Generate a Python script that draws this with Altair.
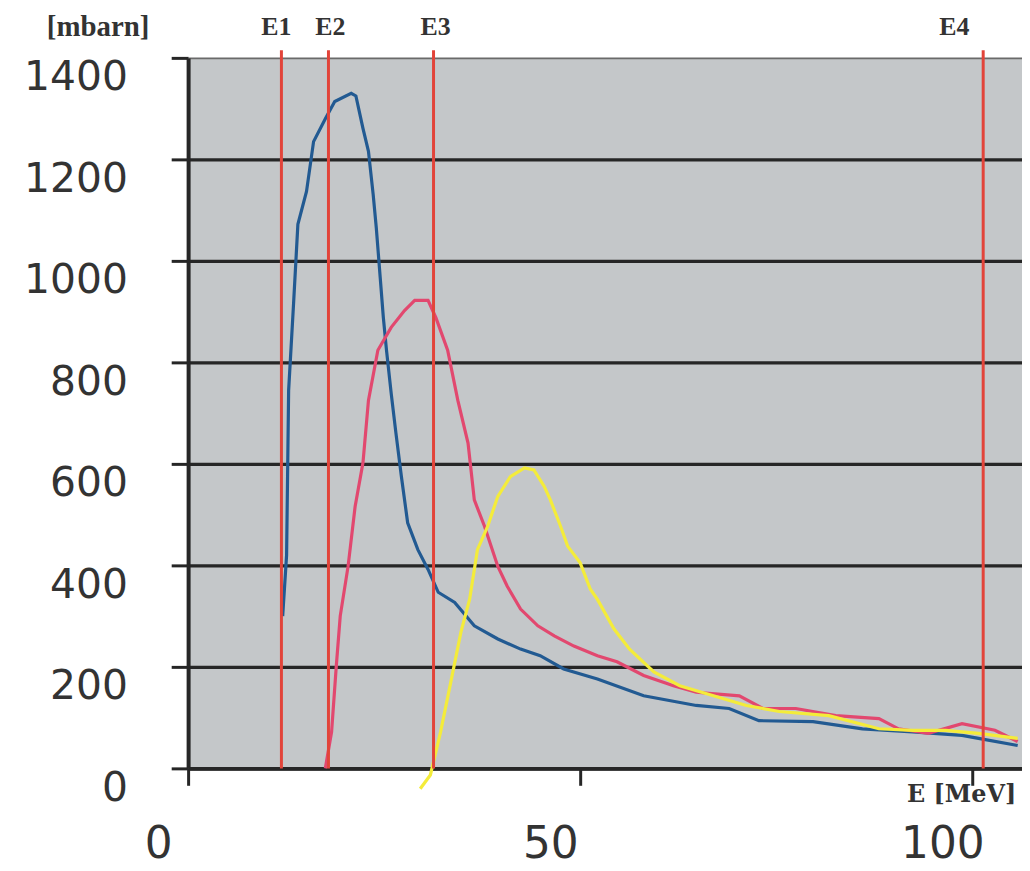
import altair as alt
import pandas as pd

# Energy [MeV] and cross section [mbarn]
blue_x = [12.06, 12.56, 12.82, 13.45, 14.0, 15.1, 16.0, 17.5, 18.7, 20.8, 21.4, 22.3, 23.0, 23.6,
          24.0, 24.5, 24.9, 25.3, 25.9, 26.5, 27.2, 28.0, 29.3, 30.6, 31.9, 34.0, 36.5, 39.5,
          42.4, 44.9, 47.9, 52.2, 58.1, 64.8, 69.0, 72.8, 79.7, 86.0, 92.4, 98.7, 100.8, 105.8]
blue_y = [300, 420, 745, 916, 1072, 1137, 1235, 1280, 1314, 1330, 1325, 1261, 1216, 1131,
          1065, 967, 888, 824, 739, 661, 575, 484, 431, 392, 347, 327, 281, 255,
          235, 222, 196, 176, 143, 124, 118, 94, 92, 78, 72, 65, 59, 45]

pink_x = [17.5, 18.3, 18.9, 19.4, 20.4, 21.3, 22.3, 23.0, 24.2, 25.9, 27.6, 28.9, 30.6, 31.6,
          33.1, 34.4, 35.7, 36.5, 37.8, 39.5, 40.7, 42.4, 44.6, 46.7, 49.2, 52.2, 54.7, 58.1,
          61.9, 64.8, 70.3, 73.3, 77.5, 82.6, 88.1, 90.6, 94.4, 98.7, 102.9, 105.8]
pink_y = [0, 72, 202, 300, 398, 516, 602, 725, 824, 869, 902, 922, 922, 888,
          824, 725, 641, 529, 477, 398, 359, 314, 281, 261, 241, 222, 210, 183,
          163, 150, 143, 118, 118, 104, 98, 78, 69, 88, 75, 53]

yellow_x = [29.6, 30.9, 32.2, 33.5, 34.8, 35.9, 36.9, 38.2, 39.5, 41.1, 42.9, 44.1, 45.4, 46.2,
            47.5, 48.4, 50.0, 51.3, 52.2, 54.3, 56.3, 59.4, 62.7, 67.0, 71.2, 75.4, 81.7, 88.1,
            92.4, 96.6, 100.8, 105.8]
yellow_y = [-40, -13, 72, 170, 269, 333, 431, 477, 536, 575, 592, 588, 556, 529,
            477, 438, 405, 353, 333, 275, 235, 190, 163, 143, 124, 112, 104, 78,
            75, 75, 69, 59]

e_names = ["E1", "E2", "E3", "E4"]
e_values = [11.9, 17.9, 31.3, 101.4]

y_ticks = [0, 200, 400, 600, 800, 1000, 1200, 1400]
x_ticks = [0, 50, 100]

blue_df = pd.DataFrame({"E": blue_x, "sigma": blue_y})
pink_df = pd.DataFrame({"E": pink_x, "sigma": pink_y})
yellow_df = pd.DataFrame({"E": yellow_x, "sigma": yellow_y})
e_df = pd.DataFrame({"name": e_names, "E": e_values, "top": [1415] * 4, "bottom": [0] * 4})

xscale = alt.Scale(domain=[0, 106.35], nice=False, zero=False)
yscale = alt.Scale(domain=[0, 1400], nice=False)

x_axis = alt.Axis(
    values=x_ticks, grid=False, title="E [MeV]", format="d",
    titleFont="DejaVu Serif", titleFontSize=24, titleFontWeight="bold", titleColor="#333",
    titleAlign="left", titleBaseline="middle", titleX=722, titleY=26,
    domainColor="#262626", domainWidth=4, tickColor="#262626", tickWidth=3, tickSize=17,
    labelFont="DejaVu Sans", labelFontSize=44, labelColor="#333",
    labelPadding=60, labelOffset=-30, labelBaseline="middle", labelFlush=False,
)
y_axis = alt.Axis(
    values=y_ticks, grid=True, title="[mbarn]", format="d",
    gridColor=alt.condition("datum.value == 1400", alt.value("#6a6a6a"), alt.value("#262626")),
    gridWidth=alt.condition("datum.value == 1400", alt.value(2), alt.value(3.5)),
    titleFont="Liberation Serif", titleFontSize=29, titleFontWeight="bold", titleColor="#333",
    titleAngle=0, titleAlign="center", titleBaseline="middle", titleX=-91, titleY=-31,
    domainColor="#262626", domainWidth=4, tickColor="#262626", tickWidth=3, tickSize=17,
    labelFont="DejaVu Sans", labelFontSize=41, labelColor="#333",
    labelPadding=44, labelOffset=20, labelFlush=False,
)

base_x = alt.X("E:Q", scale=xscale, axis=x_axis)
base_y = alt.Y("sigma:Q", scale=yscale, axis=y_axis)

blue = alt.Chart(blue_df).mark_line(color="#225a92", strokeWidth=3.2, clip=False).encode(x=base_x, y=base_y)
pink = alt.Chart(pink_df).mark_line(color="#e2486f", strokeWidth=3.2, clip=False).encode(x="E:Q", y="sigma:Q")
yellow = alt.Chart(yellow_df).mark_line(color="#f4ec3a", strokeWidth=3.2, clip=False).encode(x="E:Q", y="sigma:Q")

rules = alt.Chart(e_df).mark_rule(color="#e2443a", strokeWidth=3).encode(
    x="E:Q", y="top:Q", y2="bottom:Q"
)

def e_label(names, dx):
    return alt.Chart(e_df[e_df["name"].isin(names)]).mark_text(
        font="Liberation Serif", fontSize=26, fontWeight="bold", color="#333",
        baseline="middle", align="center", dx=dx
    ).encode(x="E:Q", y=alt.value(-31), text="name:N")

labels = [e_label(["E1"], -5), e_label(["E2", "E3"], 2), e_label(["E4"], -29)]

chart = alt.layer(blue, pink, yellow, rules, *labels).properties(
    width=838, height=714,
    background="white",
    autosize=alt.AutoSizeParams(type="none"),
    padding={"left": 181, "top": 48, "right": 0, "bottom": 100},
).configure_view(fill="#c4c7c9", stroke=None)

chart.save("out.html", embed_options={"renderer": "svg", "actions": False})
